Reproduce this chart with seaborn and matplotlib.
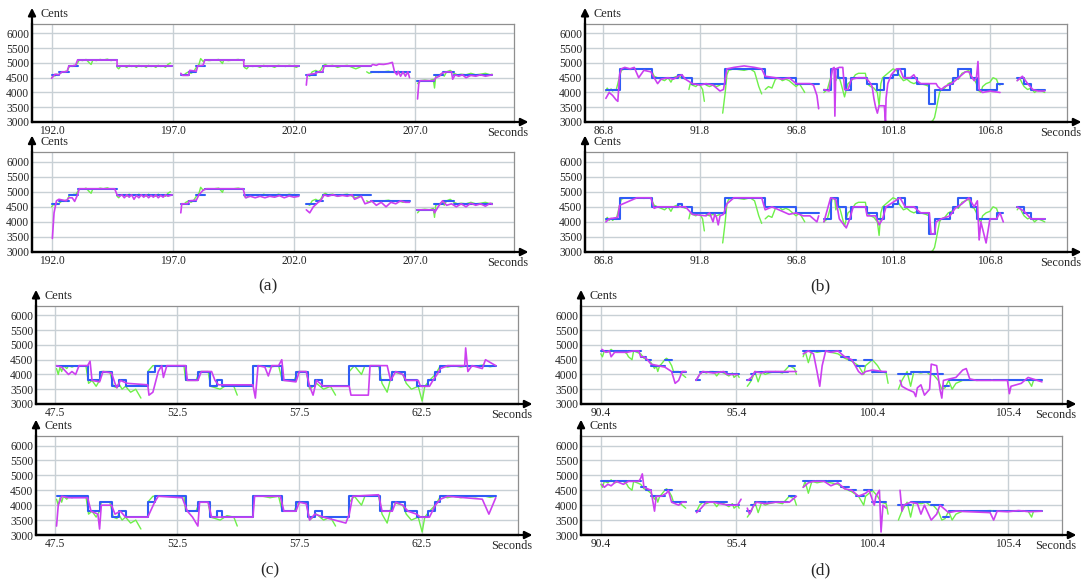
import matplotlib
matplotlib.use("Agg")
import matplotlib.pyplot as plt
import seaborn as sns
import pandas as pd

sns.set_style("white")
plt.rcParams["font.family"] = ["Liberation Serif", "DejaVu Serif"]

Y_TICKS = [3000, 3500, 4000, 4500, 5000, 5500, 6000]
A_XTICKS = [192.0, 197.0, 202.0, 207.0]
B_XTICKS = [86.8, 91.8, 96.8, 101.8, 106.8]
C_XTICKS = [47.5, 52.5, 57.5, 62.5]
D_XTICKS = [90.4, 95.4, 100.4, 105.4]
PANEL_LABELS = ["(a)", "(b)", "(c)", "(d)"]

# ---------------- panel (a) ----------------
A_BLUE = [(192.00, 192.30, 4600), (192.30, 192.71, 4700), (192.71, 193.07, 4900), (193.07, 194.70, 5100),
          (194.70, 196.97, 4900), (197.33, 197.65, 4600), (197.65, 197.97, 4700), (197.97, 198.32, 4900),
          (198.32, 199.93, 5100), (199.93, 202.20, 4900), (202.51, 202.91, 4600), (202.91, 203.18, 4700),
          (203.18, 205.18, 4900), (205.18, 206.77, 4700), (207.06, 207.77, 4400), (207.77, 208.13, 4600),
          (208.13, 208.62, 4700), (208.62, 210.18, 4600)]
A_GREEN = [
    [(192.00, 4500), (192.07, 4580), (192.14, 4560), (192.21, 4620), (192.28, 4600), (192.36, 4650), (192.43, 4700),
     (192.50, 4680), (192.57, 4720), (192.64, 4700), (192.71, 4850), (192.78, 4900), (192.85, 4880), (192.92, 4920),
     (192.99, 4900), (193.07, 5000), (193.14, 5100), (193.28, 5080), (193.42, 5120), (193.56, 5000), (193.63, 4950),
     (193.70, 5100), (193.85, 5080), (194.00, 5120), (194.13, 5100), (194.30, 5130), (194.45, 5080), (194.56, 5100)],
    [(194.70, 4850), (194.77, 4800), (194.84, 4880), (194.98, 4900), (195.10, 4850), (195.20, 4920), (195.30, 4880),
     (195.40, 4900), (195.50, 4850), (195.60, 4920), (195.70, 4880), (195.80, 4900), (195.90, 4850), (196.00, 4920),
     (196.10, 4880), (196.20, 4900), (196.30, 4850), (196.40, 4920), (196.50, 4880), (196.60, 4900), (196.70, 4850),
     (196.80, 4950), (196.90, 5000)],
    [(197.37, 4600), (197.45, 4580), (197.54, 4650), (197.65, 4700), (197.75, 4650), (197.85, 4700), (197.97, 4850),
     (198.08, 4950), (198.15, 5150), (198.25, 5050), (198.32, 5100), (198.50, 5080), (198.70, 5100), (198.90, 5120),
     (199.05, 4980), (199.10, 5100), (199.30, 5080), (199.50, 5100), (199.70, 5120), (199.90, 5080)],
    [(199.95, 4850), (200.05, 4800), (200.15, 4900), (200.30, 4880), (200.45, 4900), (200.60, 4850), (200.75, 4920),
     (200.90, 4880), (201.05, 4900), (201.20, 4850), (201.35, 4920), (201.50, 4900), (201.65, 4880), (201.80, 4920),
     (201.95, 4900), (202.10, 4850), (202.20, 4900)],
    [(202.55, 4600), (202.65, 4550), (202.75, 4700), (202.90, 4750), (203.00, 4700), (203.10, 4750), (203.20, 4900),
     (203.29, 4950), (203.40, 4900), (203.60, 4920), (203.80, 4850), (204.00, 4900), (204.20, 4920), (204.40, 4850),
     (204.55, 4800), (204.70, 4850), (204.80, 4900), (204.90, 4900)],
    [(205.00, 4700), (205.10, 4650), (205.30, 4700), (205.50, 4680), (205.70, 4700), (205.90, 4720), (206.10, 4680),
     (206.30, 4700), (206.50, 4650), (206.70, 4700)],
    [(207.10, 4300), (207.20, 4400), (207.40, 4420), (207.60, 4400), (207.75, 4450), (207.80, 4150), (207.85, 4550),
     (208.00, 4600), (208.13, 4650), (208.20, 4550), (208.30, 4700), (208.45, 4750), (208.60, 4650), (208.75, 4600),
     (208.90, 4620), (209.10, 4600), (209.30, 4650), (209.50, 4600), (209.70, 4620), (209.90, 4650), (210.10, 4600),
     (210.18, 4620)]]
A_MAG_TOP = [
    [(192.00, 4480), (192.07, 4550), (192.14, 4620), (192.28, 4600), (192.36, 4650), (192.43, 4700), (192.57, 4700),
     (192.64, 4720), (192.71, 4900), (192.85, 4900), (192.99, 4920), (193.07, 5100), (193.50, 5100), (194.00, 5100),
     (194.70, 5100), (194.70, 4900), (196.97, 4900)],
    [(197.33, 4650), (197.40, 4580), (197.65, 4580), (197.70, 4750), (197.97, 4720), (198.03, 4900), (198.25, 4920),
     (198.32, 5100), (199.93, 5100), (199.93, 4900), (202.20, 4900)],
    [(202.51, 4250), (202.55, 4600), (202.70, 4620), (202.91, 4650), (203.00, 4700), (203.18, 4700), (203.25, 4900),
     (205.18, 4900), (205.25, 4950), (205.40, 4920), (205.50, 4960), (205.70, 4950), (205.90, 4980), (206.06, 5020),
     (206.15, 4700), (206.25, 4600), (206.30, 4720), (206.40, 4550), (206.50, 4700), (206.60, 4550), (206.70, 4700),
     (206.77, 4500)],
    [(207.10, 3780), (207.15, 4300), (207.20, 4400), (207.77, 4400), (207.85, 4500), (208.00, 4550), (208.10, 4650),
     (208.30, 4700), (208.50, 4700), (208.55, 4450), (208.65, 4600), (208.80, 4550), (208.95, 4600), (209.10, 4500),
     (209.30, 4580), (209.50, 4550), (209.70, 4600), (209.90, 4550), (210.18, 4600)]]
A_MAG_BOT = [
    [(192.03, 3450), (192.10, 4300), (192.20, 4700), (192.30, 4750), (192.60, 4700), (192.71, 4800), (192.85, 4800),
     (192.95, 4680), (193.07, 4900), (193.14, 5100), (194.60, 5100), (194.70, 4900), (194.80, 4850), (194.90, 4900),
     (195.00, 4800), (195.10, 4900), (195.20, 4820), (195.30, 4900), (195.40, 4750), (195.50, 4880), (195.60, 4800),
     (195.70, 4900), (195.80, 4820), (195.90, 4900), (196.00, 4800), (196.10, 4880), (196.20, 4820), (196.30, 4900),
     (196.40, 4800), (196.50, 4880), (196.60, 4820), (196.70, 4900), (196.80, 4850), (196.97, 4900)],
    [(197.33, 4300), (197.37, 4600), (197.60, 4600), (197.70, 4700), (197.97, 4720), (198.08, 4900), (198.25, 5050),
     (198.40, 5100), (199.90, 5100), (200.00, 4800), (200.20, 4850), (200.40, 4800), (200.60, 4850), (200.80, 4800),
     (201.00, 4850), (201.20, 4820), (201.40, 4870), (201.60, 4800), (201.80, 4860), (202.00, 4820), (202.20, 4850)],
    [(202.51, 4400), (202.58, 4350), (202.65, 4300), (202.80, 4500), (203.00, 4650), (203.10, 4700), (203.25, 4900),
     (203.40, 4850), (203.60, 4900), (203.80, 4850), (204.00, 4880), (204.20, 4850), (204.40, 4900), (204.50, 4750),
     (204.64, 4800), (204.78, 4850), (204.93, 4600), (205.10, 4650), (205.20, 4700), (205.40, 4550), (205.60, 4650),
     (205.80, 4500), (206.00, 4650), (206.20, 4600), (206.40, 4700), (206.60, 4650), (206.77, 4650)],
    [(207.09, 4400), (207.77, 4400), (207.80, 4300), (207.95, 4500), (208.13, 4700), (208.30, 4550), (208.50, 4600),
     (208.70, 4500), (208.90, 4600), (209.10, 4500), (209.30, 4620), (209.50, 4550), (209.70, 4600), (209.90, 4520),
     (210.10, 4620), (210.18, 4580)]]

# ---------------- panel (b) ----------------
B_BLUE = [(86.93, 87.64, 4100), (87.64, 89.34, 4800), (89.34, 90.69, 4500), (90.69, 90.87, 4600),
          (90.87, 91.41, 4500), (91.41, 93.11, 4300), (93.11, 95.18, 4800), (95.18, 96.78, 4500),
          (96.78, 97.95, 4300), (98.22, 98.57, 4100), (98.57, 98.93, 4800), (98.93, 99.38, 4500),
          (99.38, 99.65, 4100), (99.65, 100.46, 4500), (100.46, 100.99, 4300), (100.99, 101.35, 4100),
          (101.35, 101.80, 4500), (101.80, 102.07, 4600), (102.07, 102.43, 4800), (102.43, 103.05, 4500),
          (103.05, 103.68, 4300), (103.68, 103.95, 3600), (103.95, 104.75, 4100), (104.75, 104.93, 4300),
          (104.93, 105.19, 4500), (105.19, 105.82, 4800), (105.82, 106.17, 4500), (106.17, 107.16, 4100),
          (107.16, 107.51, 4300), (108.23, 108.59, 4500), (108.59, 108.95, 4300), (108.95, 109.66, 4100)]
B_GREEN = [
    [(86.93, 4050), (87.00, 4150), (87.10, 4050), (87.20, 4120), (87.28, 4050), (87.37, 4100), (87.46, 4080),
     (87.55, 4300), (87.64, 4550), (87.73, 4750), (87.91, 4800), (88.20, 4780), (88.50, 4800), (88.90, 4780),
     (89.26, 4800), (89.43, 4550), (89.61, 4500), (89.79, 4450), (89.97, 4400), (90.15, 4500), (90.30, 4350),
     (90.42, 4500), (90.60, 4550), (90.87, 4500), (91.05, 4450), (91.15, 4500)],
    [(91.23, 4100), (91.30, 4300), (91.41, 4250), (91.59, 4200), (91.75, 4300), (91.85, 4200), (91.94, 4100),
     (92.03, 3700)],
    [(92.12, 4250), (92.30, 4200), (92.48, 4250), (92.66, 4200), (92.84, 4250)],
    [(92.98, 3300), (93.11, 4000), (93.20, 4600), (93.29, 4750), (93.56, 4800), (94.09, 4750), (94.40, 4800),
     (94.63, 4700), (94.72, 4500), (94.85, 4200), (95.00, 3950)],
    [(95.18, 4100), (95.35, 4200), (95.53, 4150), (95.71, 4450), (95.89, 4500), (96.07, 4400), (96.25, 4450),
     (96.42, 4400), (96.60, 4300), (96.78, 4200), (96.95, 4300), (97.14, 4100), (97.23, 4000)],
    [(98.22, 4000), (98.40, 4100), (98.57, 4500), (98.66, 4800), (98.79, 4750), (98.84, 4400), (98.93, 4600),
     (99.02, 4500), (99.11, 4300), (99.29, 3850), (99.38, 4100), (99.47, 4300), (99.65, 4400), (99.85, 4600),
     (100.01, 4650), (100.37, 4650), (100.46, 4300), (100.64, 4200), (100.81, 4150), (100.99, 4000), (101.08, 3550),
     (101.17, 4300), (101.26, 4500), (101.44, 4600), (101.62, 4700), (101.80, 4800), (101.98, 4750), (102.16, 4550),
     (102.34, 4400), (102.52, 4450), (102.70, 4350), (102.88, 4300), (103.05, 4350), (103.23, 4300), (103.50, 4250),
     (103.68, 4200)],
    [(103.77, 3000), (103.86, 3050), (103.95, 3150), (104.03, 3400), (104.12, 3700), (104.21, 4000), (104.30, 4100),
     (104.48, 4150), (104.66, 4300), (104.84, 4350), (105.02, 4500), (105.19, 4450), (105.37, 4650), (105.55, 4700),
     (105.73, 4750), (105.82, 4500), (106.00, 4450), (106.12, 4300), (106.17, 4100), (106.35, 4000), (106.44, 4200),
     (106.62, 4300), (106.82, 4350), (106.98, 4500), (107.16, 4450), (107.24, 4300), (107.34, 4250)],
    [(108.23, 4400), (108.35, 4500), (108.50, 4300), (108.59, 4200), (108.77, 4100), (108.95, 4150), (109.13, 4000),
     (109.31, 4100), (109.50, 4050), (109.66, 4000)]]
B_MAG_TOP = [
    [(86.93, 3800), (87.10, 4000), (87.28, 3900), (87.46, 3750), (87.55, 3700), (87.64, 4600), (87.73, 4800),
     (87.91, 4850), (88.18, 4800), (88.40, 4850), (88.63, 4500), (88.90, 4750), (89.26, 4700), (89.43, 4500),
     (89.61, 4300), (89.79, 4450), (90.15, 4500), (90.42, 4450), (90.69, 4550), (90.87, 4600), (91.05, 4450),
     (91.41, 4300), (91.80, 4250), (92.12, 4300), (92.48, 4250), (92.66, 4150), (92.84, 4050), (93.02, 4100),
     (93.20, 4800), (93.56, 4850), (94.09, 4900), (94.63, 4850), (95.00, 4800), (95.18, 4550), (95.71, 4500),
     (96.07, 4450), (96.42, 4500), (96.78, 4300), (97.50, 4300), (97.68, 4250), (97.86, 3900), (97.95, 3450)],
    [(98.22, 4100), (98.49, 4050), (98.66, 4800), (98.75, 4850), (98.79, 3200), (98.84, 4800), (99.02, 4850),
     (99.20, 4850), (99.29, 4100), (99.47, 4100), (99.65, 4450), (100.01, 4500), (100.37, 4500), (100.46, 4450),
     (100.64, 4300), (100.72, 4200), (100.81, 3800), (100.90, 3500), (100.99, 3300), (101.08, 3550), (101.26, 3550),
     (101.35, 3550), (101.41, 3000), (101.44, 3800), (101.53, 4300), (101.71, 4600), (101.98, 4800), (102.16, 4800),
     (102.34, 4500), (102.70, 4500), (102.88, 4600), (103.05, 4400), (103.23, 4300), (103.77, 4300), (104.03, 4300),
     (104.12, 4200), (104.30, 4100), (104.48, 4200), (104.84, 4300), (105.02, 4400), (105.19, 4500), (105.55, 4700),
     (105.73, 4700), (106.00, 4400), (106.12, 4500), (106.20, 5050), (106.26, 4100), (106.44, 4000), (106.82, 4050),
     (107.34, 4000)],
    [(108.23, 4400), (108.50, 4550), (108.77, 4300), (109.04, 4100), (109.31, 4050), (109.66, 4050)]]
B_MAG_BOT = [
    [(86.93, 4000), (87.10, 4100), (87.55, 4150), (87.64, 4550), (88.18, 4700), (88.54, 4800), (89.26, 4800),
     (89.43, 4450), (89.61, 4500), (90.69, 4500), (91.05, 4500), (91.41, 4250), (92.12, 4200), (92.30, 4300),
     (92.48, 4000), (92.57, 4250), (92.66, 4150), (92.75, 3900), (92.84, 4200), (93.02, 4250), (93.20, 4600),
     (93.56, 4800), (95.00, 4800), (95.18, 4400), (95.53, 4500), (96.07, 4350), (96.42, 4250), (96.78, 4300),
     (97.14, 4200), (97.50, 4200), (97.86, 4000), (97.95, 4200)],
    [(98.22, 4000), (98.57, 4800), (98.84, 4750), (99.02, 4100), (99.38, 3800), (99.56, 4100), (99.74, 4500),
     (100.37, 4500), (100.46, 4200), (100.90, 4200), (101.08, 3900), (101.26, 4100), (101.44, 4500), (101.80, 4650),
     (102.16, 4800), (102.43, 4500), (102.88, 4500), (103.23, 4300), (103.68, 4300), (103.77, 3600), (103.95, 3600),
     (104.03, 4000), (104.30, 4100), (104.75, 4200), (105.02, 4450), (105.37, 4600), (105.73, 4800), (106.00, 4500),
     (106.17, 4700), (106.26, 3400), (106.35, 4000), (106.62, 3300), (106.82, 4100), (107.16, 4100), (107.34, 4300),
     (107.51, 4000)],
    [(108.23, 4500), (108.59, 4350), (108.95, 4100), (109.66, 4100)]]

# ---------------- panel (c) ----------------
C_BLUE = [(47.57, 48.84, 4300), (48.84, 49.33, 3800), (49.33, 49.82, 4100), (49.82, 50.11, 3600),
          (50.11, 50.39, 3800), (50.39, 51.30, 3600), (51.30, 51.58, 4100), (51.58, 52.85, 4300),
          (52.85, 53.35, 3800), (53.35, 53.84, 4100), (53.84, 54.12, 3600), (54.12, 54.33, 3800),
          (54.33, 55.60, 3600), (55.60, 56.80, 4300), (56.80, 57.36, 3800), (57.36, 57.85, 4100),
          (57.85, 58.13, 3600), (58.13, 58.42, 3800), (58.42, 59.54, 3600), (59.54, 60.81, 4300),
          (60.81, 61.30, 3800), (61.30, 61.80, 4100), (61.80, 62.29, 3800), (62.29, 62.77, 3600),
          (62.77, 63.06, 3800), (63.06, 63.27, 4100), (63.27, 65.53, 4300)]
C_GREEN = [
    [(47.57, 4200), (47.64, 4000), (47.71, 4250), (47.78, 4100), (47.85, 4300), (47.99, 4200), (48.06, 4300),
     (48.20, 4250), (48.35, 4300), (48.49, 4280), (48.77, 4300), (48.88, 3700), (49.02, 3800), (49.19, 3600),
     (49.33, 3800), (49.40, 4100), (49.75, 4100), (49.89, 3600), (50.04, 3550), (50.11, 3700), (50.25, 3500),
     (50.39, 3600), (50.60, 3400), (50.81, 3500), (50.95, 3300), (51.02, 3200)],
    [(51.30, 4100), (51.51, 4300), (52.00, 4300), (52.40, 4280), (52.78, 4300), (52.85, 3800), (53.27, 3800),
     (53.42, 4100), (53.77, 4100), (53.87, 3600), (54.26, 3500), (54.54, 3650), (54.82, 3600), (54.96, 3300)],
    [(55.60, 4300), (56.00, 4300), (56.30, 4250), (56.65, 4300), (56.80, 3800), (57.29, 3800), (57.43, 4100),
     (57.78, 4100), (57.92, 3500), (58.20, 3700), (58.49, 3500), (58.77, 3600), (58.98, 3300)],
    [(59.54, 4100), (59.75, 4300), (60.04, 4000), (60.18, 4300), (60.74, 4300), (60.88, 3700), (61.09, 3400),
     (61.30, 4100), (61.73, 4000), (61.87, 3700), (62.08, 3500), (62.36, 3600), (62.52, 3100), (62.63, 3600),
     (62.82, 3800), (63.06, 4000), (63.27, 4300), (63.56, 4250), (63.80, 4300), (64.10, 4250), (64.40, 4300),
     (64.70, 4280), (65.00, 4320), (65.30, 4260), (65.53, 4300)]]
C_MAG_TOP = [
    [(47.57, 4300), (47.78, 4250), (48.06, 4000), (48.20, 4100), (48.35, 4000), (48.49, 4300), (48.84, 4300),
     (48.94, 4450), (49.02, 3800), (49.33, 3750), (49.47, 4100), (49.82, 4050), (49.96, 3700), (50.04, 3550),
     (50.18, 3800), (50.46, 3700), (51.30, 3650), (51.35, 3300), (51.51, 3400), (51.73, 4100), (51.87, 4300),
     (51.94, 3900), (52.08, 4300), (52.85, 4300), (52.92, 3800), (53.35, 3800), (53.49, 4100), (53.91, 4100),
     (54.05, 3800), (54.19, 3650), (55.60, 3650), (55.70, 3200), (55.81, 4300), (56.09, 4250), (56.23, 3950),
     (56.37, 4300), (56.65, 4300), (56.78, 4500), (56.87, 3800), (57.36, 3750), (57.50, 4100), (57.78, 4100),
     (57.92, 3600), (58.06, 3300), (58.20, 3800), (58.49, 3600), (59.54, 3600), (59.61, 3300), (60.32, 3300),
     (60.39, 4300), (61.09, 4300), (61.23, 3800), (61.44, 4100), (61.73, 4000), (61.87, 3800), (62.36, 3800),
     (62.45, 3600), (62.82, 3600), (62.96, 3800), (63.13, 4000), (63.27, 4200), (63.56, 4300), (64.26, 4300),
     (64.30, 4900), (64.39, 4100), (64.56, 4300), (64.98, 4200), (65.11, 4500), (65.32, 4400), (65.53, 4300)]]
C_MAG_BOT = [
    [(47.57, 3300), (47.64, 4000), (47.78, 4300), (48.06, 4250), (48.84, 4250), (48.98, 3800), (49.26, 3700),
     (49.33, 3200), (49.40, 4000), (49.82, 4000), (49.96, 3700), (50.18, 3800), (50.39, 3600), (51.30, 3600),
     (51.58, 4100), (51.73, 4300), (52.71, 4250), (52.92, 3800), (53.13, 3600), (53.35, 3300), (53.42, 4100),
     (53.77, 4100), (53.91, 3600), (55.60, 3600), (55.67, 4300), (56.51, 4300), (56.72, 4300), (56.87, 3800),
     (57.36, 3800), (57.50, 4100), (57.78, 4050), (57.92, 3500), (58.13, 3700), (58.49, 3600), (59.40, 3400),
     (59.54, 3700), (59.68, 4300), (60.74, 4350), (60.88, 3800), (61.30, 3800), (61.44, 4100), (61.73, 4000),
     (61.94, 3800), (62.29, 3700), (62.45, 3600), (62.82, 3600), (63.06, 4000), (63.27, 4200), (63.56, 4300),
     (64.98, 4200), (65.25, 3700), (65.53, 4250)]]

# ---------------- panel (d) ----------------
D_BLUE = [(90.40, 90.82, 4800), (90.85, 91.36, 4800), (91.40, 91.87, 4800), (91.87, 92.05, 4600),
          (92.05, 92.25, 4500), (92.25, 92.76, 4300), (92.76, 93.03, 4500), (93.03, 93.53, 4100),
          (93.91, 94.04, 3800), (94.04, 94.35, 4100), (94.40, 94.74, 4100), (94.78, 95.06, 4100),
          (95.06, 95.50, 4000), (95.80, 95.92, 3800), (95.92, 96.08, 4000), (96.08, 96.50, 4100),
          (96.55, 96.95, 4100), (97.00, 97.30, 4100), (97.35, 97.54, 4300), (97.86, 98.30, 4800),
          (98.34, 98.75, 4800), (98.79, 99.26, 4800), (99.26, 99.55, 4600), (99.55, 99.80, 4500),
          (99.80, 100.09, 4300), (100.09, 100.41, 4500), (100.41, 100.92, 4100), (101.37, 101.82, 4000),
          (101.82, 102.20, 4100), (102.24, 102.55, 4100), (102.58, 103.03, 4000), (103.03, 103.22, 3600),
          (103.22, 103.70, 3800), (103.74, 104.25, 3800), (104.28, 104.80, 3800), (104.84, 105.40, 3800),
          (105.44, 106.00, 3800), (106.04, 106.66, 3800)]
D_GREEN = [
    [(90.40, 4700), (90.46, 4600), (90.53, 4800), (90.66, 4750), (90.78, 4850), (90.91, 4750), (91.10, 4800),
     (91.23, 4800), (91.36, 4700), (91.42, 4600), (91.55, 4500), (91.61, 4800), (91.74, 4750), (91.87, 4700),
     (91.99, 4550), (92.12, 4500), (92.25, 4400), (92.38, 4200), (92.44, 4300), (92.50, 4100), (92.57, 4300),
     (92.63, 4350), (92.76, 4500), (92.82, 4550), (92.89, 4500), (93.01, 4300), (93.08, 4100), (93.27, 4100),
     (93.40, 4000), (93.53, 3900)],
    [(93.93, 3800), (94.04, 4000), (94.16, 4100), (94.29, 4050), (94.42, 4100), (94.55, 4100), (94.67, 3950),
     (94.80, 4100), (94.93, 4050), (95.12, 3950), (95.25, 4050), (95.31, 3900), (95.44, 4000), (95.50, 3900)],
    [(95.80, 3600), (95.88, 3700), (95.95, 3800), (96.08, 4100), (96.20, 3750), (96.33, 4100), (96.46, 4000),
     (96.59, 4050), (96.84, 4100), (97.10, 4050), (97.35, 4300), (97.54, 4200), (97.61, 4000)],
    [(97.86, 4600), (97.93, 4800), (98.05, 4400), (98.18, 4800), (98.37, 4750), (98.63, 4800), (98.88, 4750),
     (99.14, 4700), (99.39, 4550), (99.65, 4450), (99.90, 4300), (100.09, 4000), (100.16, 4300), (100.29, 4400),
     (100.41, 4500), (100.60, 4300), (100.73, 4100), (100.92, 4050), (100.99, 3700)],
    [(101.37, 3500), (101.50, 3800), (101.69, 4100), (101.82, 3600), (101.94, 4100), (102.20, 4050), (102.39, 4100),
     (102.52, 4000), (102.65, 4000), (102.84, 3800), (102.97, 3500), (103.09, 3550), (103.22, 3800), (103.35, 3500),
     (103.49, 3700), (103.74, 3800), (104.25, 3800), (104.75, 3820), (105.39, 3800), (105.90, 3800), (106.15, 3800),
     (106.28, 3600), (106.35, 3800), (106.66, 3800)]]
D_MAG_TOP = [
    [(90.44, 4850), (90.59, 4750), (90.72, 4800), (90.78, 4600), (90.91, 4750), (91.36, 4750), (91.61, 4800),
     (91.80, 4800), (91.87, 4600), (91.99, 4600), (92.12, 4500), (92.25, 4350), (92.50, 4300), (92.76, 4250),
     (93.01, 4100), (93.14, 3700), (93.27, 3800), (93.40, 4100), (93.53, 4100)],
    [(93.91, 3800), (94.04, 4000), (94.16, 4100), (94.55, 4050), (94.93, 4100), (95.06, 4000), (95.44, 4000)],
    [(95.82, 3800), (95.95, 3900), (96.08, 4100), (96.33, 4050), (96.46, 4100), (97.10, 4100), (97.61, 4100)],
    [(97.86, 4700), (98.05, 4800), (98.24, 4700), (98.37, 4100), (98.47, 3600), (98.56, 4300), (98.69, 4800),
     (98.88, 4750), (99.14, 4800), (99.39, 4600), (99.65, 4500), (99.78, 4300), (99.90, 4100), (100.03, 4000),
     (100.16, 4100), (100.41, 4150), (100.80, 4100), (100.92, 4100)],
    [(101.43, 3800), (101.50, 3600), (101.69, 3500), (101.94, 3400), (102.01, 3250), (102.07, 3550), (102.20, 3650),
     (102.33, 3300), (102.52, 3500), (102.58, 4350), (102.78, 4300), (102.90, 3500), (102.97, 3200), (103.03, 3800),
     (103.49, 3900), (103.74, 4150), (103.87, 4200), (104.00, 3850), (104.25, 3800), (104.75, 3800), (105.39, 3800),
     (105.46, 3350), (105.52, 3600), (105.90, 3700), (106.15, 3900), (106.66, 3750)]]
D_MAG_BOT = [
    [(90.44, 4700), (90.53, 4600), (90.66, 4700), (90.78, 4650), (90.97, 4800), (91.23, 4700), (91.42, 4800),
     (91.80, 4800), (91.87, 4900), (91.93, 5050), (91.99, 4600), (92.25, 4500), (92.38, 3800), (92.44, 4300),
     (92.63, 4300), (92.82, 4400), (92.89, 4500), (93.01, 4100), (93.27, 4000), (93.40, 4100), (93.53, 4100)],
    [(93.93, 3750), (94.10, 3900), (94.29, 4100), (94.55, 4100), (94.80, 4050), (95.12, 4000), (95.44, 4000),
     (95.57, 4200)],
    [(95.80, 3900), (95.88, 3700), (96.01, 3950), (96.14, 4100), (96.46, 4050), (96.84, 4100), (97.35, 4100),
     (97.61, 4300)],
    [(97.86, 4600), (98.05, 4750), (98.24, 4800), (98.63, 4800), (98.88, 4650), (99.14, 4750), (99.39, 4550),
     (99.65, 4500), (99.90, 4300), (100.16, 4400), (100.29, 4500), (100.48, 4000), (100.54, 4300), (100.67, 4500),
     (100.73, 3100), (100.80, 4000), (100.92, 3900)],
    [(101.43, 4500), (101.50, 3800), (101.56, 4000), (101.82, 4100), (102.07, 4050), (102.20, 3700), (102.33, 4000),
     (102.58, 3500), (102.78, 3700), (102.90, 4000), (103.03, 3900), (103.22, 3750), (103.49, 3800), (104.75, 3750),
     (104.88, 3500), (105.01, 3800), (105.40, 3780), (105.80, 3820), (106.20, 3780), (106.66, 3800)]]

GREEN = "#6ef04a"
BLUE = "#2f5cf5"
MAGENTA = "#cc40f0"
W, H = 1083, 580


def segs_df(segs):
    rows = []
    for i, seg in enumerate(segs):
        for t, v in seg:
            rows.append((i, t, v))
    return pd.DataFrame(rows, columns=["seg", "t", "v"])


def notes_df(notes, connect):
    rows = []
    seg = 0
    prev_end = None
    for s, e, v in notes:
        if not connect or prev_end is None or abs(s - prev_end) > 1e-6:
            seg += 1
        rows.append((seg, s, v))
        rows.append((seg, e, v))
        prev_end = e
    return pd.DataFrame(rows, columns=["seg", "t", "v"])


def rect(x0, y0, x1, y1):
    return [x0 / W, 1 - y1 / H, (x1 - x0) / W, (y1 - y0) / H]


def panel(fig, box, blue, connect, green, mag, xlim, xticks):
    ax = fig.add_axes(rect(*box))
    sns.lineplot(data=segs_df(green), x="t", y="v", units="seg", estimator=None, sort=False,
                 color=GREEN, lw=1.0, ax=ax, legend=False)
    sns.lineplot(data=notes_df(blue, connect), x="t", y="v", units="seg", estimator=None, sort=False,
                 color=BLUE, lw=1.5, ax=ax, legend=False)
    sns.lineplot(data=segs_df(mag), x="t", y="v", units="seg", estimator=None, sort=False,
                 color=MAGENTA, lw=1.2, ax=ax, legend=False)
    ax.set_xlim(*xlim)
    ax.set_ylim(3000, 6320)
    ax.set_xticks(xticks)
    ax.set_xticklabels([f"{x:.1f}" for x in xticks])
    ax.set_yticks(Y_TICKS)
    ax.set_yticklabels([str(y) for y in Y_TICKS])
    ax.set_xlabel("")
    ax.set_ylabel("")
    ax.grid(True, color="#c8d0d5", lw=1.0)
    ax.set_axisbelow(True)
    ax.tick_params(length=0, labelsize=8.3, pad=2)
    for s in ("top", "right"):
        ax.spines[s].set_color("#8f8f8f")
        ax.spines[s].set_linewidth(0.9)
    for s in ("left", "bottom"):
        ax.spines[s].set_color("black")
        ax.spines[s].set_linewidth(1.6)
    ax.annotate("", xy=(0, 1.165), xytext=(0, 0), xycoords="axes fraction",
                arrowprops=dict(arrowstyle="-|>", color="black", lw=1.6, mutation_scale=11,
                                shrinkA=0, shrinkB=0), annotation_clip=False)
    ax.annotate("", xy=(1.03, 0), xytext=(0, 0), xycoords="axes fraction",
                arrowprops=dict(arrowstyle="-|>", color="black", lw=1.6, mutation_scale=11,
                                shrinkA=0, shrinkB=0), annotation_clip=False)
    ax.text(0.018, 1.10, "Cents", transform=ax.transAxes, ha="left", va="center", fontsize=8.8)
    ax.text(1.03, -0.055, "Seconds", transform=ax.transAxes, ha="right", va="top", fontsize=8.8)
    return ax


fig = plt.figure(figsize=(W / 100, H / 100), dpi=100)

A_XLIM = (191.19, 211.08)
B_XLIM = (85.85, 110.81)
C_XLIM = (46.73, 66.44)
D_XLIM = (89.67, 107.40)

panel(fig, (32, 24, 514, 122), A_BLUE, False, A_GREEN, A_MAG_TOP, A_XLIM, A_XTICKS)
panel(fig, (32, 152, 514, 252), A_BLUE, False, A_GREEN, A_MAG_BOT, A_XLIM, A_XTICKS)
panel(fig, (585, 24, 1067, 122), B_BLUE, True, B_GREEN, B_MAG_TOP, B_XLIM, B_XTICKS)
panel(fig, (585, 152, 1067, 252), B_BLUE, True, B_GREEN, B_MAG_BOT, B_XLIM, B_XTICKS)
panel(fig, (36, 306, 518, 404), C_BLUE, True, C_GREEN, C_MAG_TOP, C_XLIM, C_XTICKS)
panel(fig, (36, 436, 518, 535), C_BLUE, True, C_GREEN, C_MAG_BOT, C_XLIM, C_XTICKS)
panel(fig, (581, 306, 1062, 404), D_BLUE, False, D_GREEN, D_MAG_TOP, D_XLIM, D_XTICKS)
panel(fig, (581, 436, 1062, 535), D_BLUE, False, D_GREEN, D_MAG_BOT, D_XLIM, D_XTICKS)

for lab, (x, y) in zip(PANEL_LABELS, [(268, 286), (820, 286), (270, 570), (820, 570)]):
    fig.text(x / W, 1 - y / H, lab, ha="center", va="center", fontsize=12.5)

fig.savefig("out.png", dpi=100)
